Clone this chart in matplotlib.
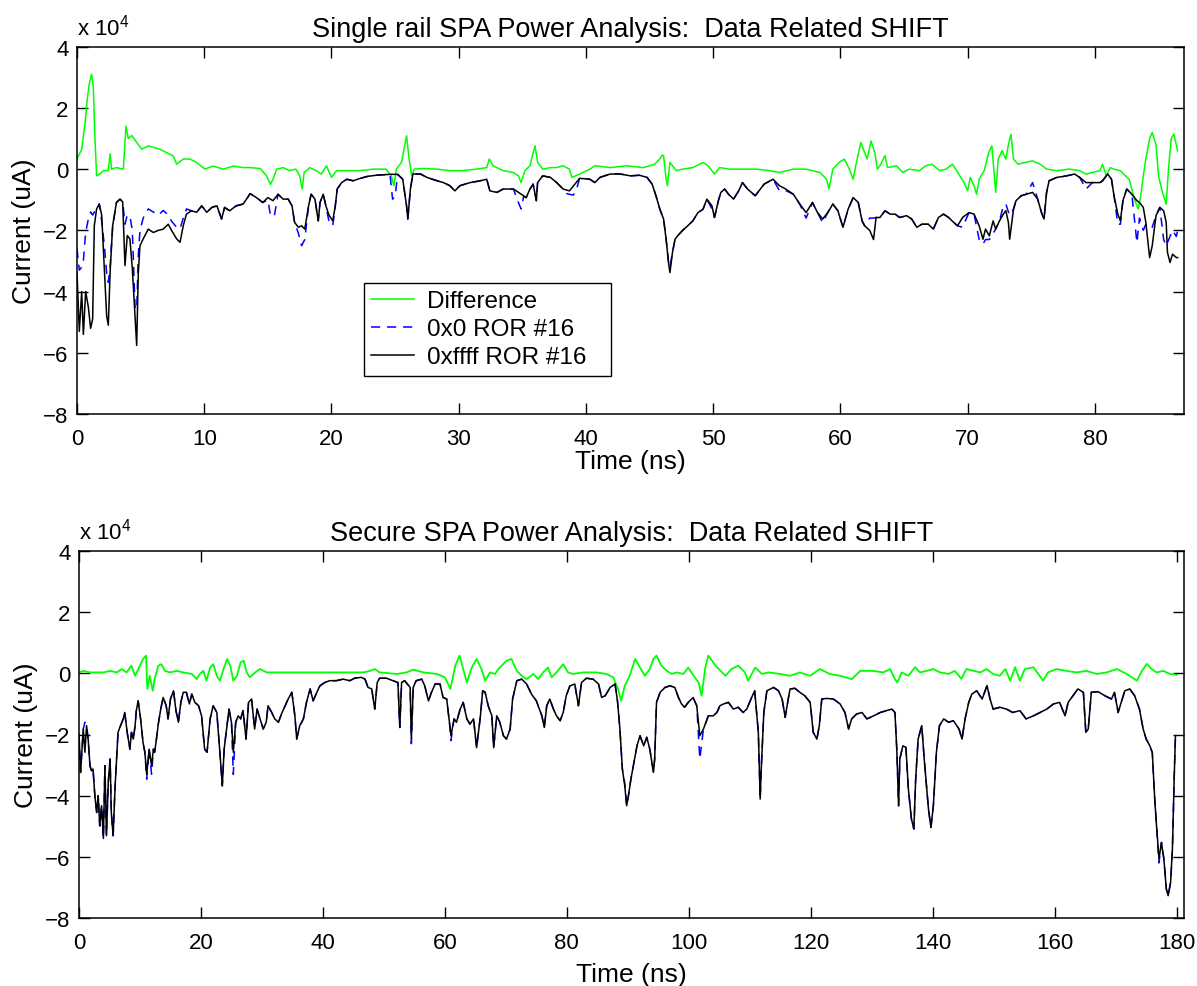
import numpy as np
import matplotlib
matplotlib.use("Agg")
import matplotlib.pyplot as plt

plt.rcParams['font.family'] = ['Liberation Sans', 'DejaVu Sans']
plt.rcParams['mathtext.fontset'] = 'custom'
plt.rcParams['mathtext.rm'] = 'Liberation Sans'
plt.rcParams['mathtext.it'] = 'Liberation Sans:italic'

# traces: (time in ns, current in units of 1e4 uA)

# single rail
top_diff = np.array([
    [0, 0.33], [0.37, 0.65], [0.63, 1.5], [0.81, 2.3], [0.97, 2.8], [1.15, 3.1], [1.28, 2.7],
    [1.41, 1.0], [1.54, -0.22], [1.8, -0.16], [2.07, -0.05], [2.46, -0.05], [2.6, 0.5], [2.72, 0.0],
    [3.1, 0.05], [3.64, 0.0], [3.85, 1.4], [4.03, 1.0], [4.3, 1.1], [4.7, 0.87], [5.08, 0.65],
    [5.6, 0.76], [6.1, 0.7], [6.5, 0.65], [7.04, 0.54], [7.57, 0.43], [7.83, 0.16], [8.35, 0.33],
    [8.87, 0.33], [9.4, 0.22], [10.05, 0.0], [10.7, 0.1], [11.5, 0.0], [12.3, 0.1], [13.06, 0.05],
    [13.6, 0.05], [14.4, 0.02], [14.9, -0.22], [15.2, -0.5], [15.4, -0.33], [15.7, 0.0], [16.2, 0.05],
    [16.7, -0.05], [17.2, 0.0], [17.5, -0.22], [17.7, -0.65], [17.85, -0.11], [18.3, 0.05],
    [18.8, -0.05], [19.2, -0.16], [19.6, 0.11], [20.0, -0.27], [20.4, -0.05], [21.2, -0.05],
    [22.2, -0.05], [23.3, 0.0], [24.3, 0.0], [24.7, -0.22], [24.9, -0.54], [25.1, 0.0], [25.5, 0.22],
    [25.7, 0.65], [25.9, 1.09], [26.1, 0.33], [26.3, -0.22], [26.5, 0.0], [27.2, 0.02], [28.3, 0.0],
    [29.3, -0.05], [30.3, -0.05], [31.4, 0.0], [32.2, 0.05], [32.4, 0.33], [32.7, 0.11], [33.5, -0.05],
    [34.3, -0.11], [34.7, -0.22], [34.9, -0.44], [35.2, -0.05], [35.6, 0.11], [35.85, 0.54],
    [36.0, 0.76], [36.2, 0.22], [36.6, 0.0], [37.2, 0.05], [37.7, 0.05], [38.2, 0.11], [38.7, 0.0],
    [38.9, -0.27], [39.5, -0.16], [40.3, 0.0], [40.7, 0.11], [41.9, 0.05], [43.2, 0.11], [44.5, 0.05],
    [45.4, 0.16], [45.8, 0.33], [46.0, 0.46], [46.1, 0.44], [46.3, -0.33], [46.4, -0.54], [46.6, 0.22],
    [46.8, 0.11], [47.1, -0.05], [47.6, 0.0], [48.4, 0.05], [49.2, 0.22], [49.6, 0.11], [50.1, -0.16],
    [50.5, 0.05], [51.3, 0.0], [52.3, 0.0], [53.4, 0.0], [54.4, -0.05], [55.2, -0.11], [56.3, 0.0],
    [57.3, 0.0], [58.4, -0.11], [58.9, -0.33], [59.1, -0.65], [59.4, 0.0], [59.9, 0.22], [60.3, 0.33],
    [60.7, 0.0], [61.0, -0.33], [61.2, 0.11], [61.6, 0.87], [61.9, 0.54], [62.1, 0.33], [62.4, 0.92],
    [62.7, 0.54], [62.9, 0.0], [63.1, 0.11], [63.5, 0.44], [63.7, 0.05], [64.4, 0.11], [64.9, -0.11],
    [65.4, 0.0], [66.2, -0.05], [66.7, 0.11], [67.2, 0.16], [67.8, -0.05], [68.3, 0.0], [68.8, 0.16],
    [69.3, -0.16], [69.7, -0.44], [70.0, -0.71], [70.2, -0.27], [70.5, -0.54], [70.7, -0.82],
    [70.9, -0.33], [71.3, -0.05], [71.65, 0.54], [71.9, 0.76], [72.2, -0.76], [72.4, 0.33], [72.7, 0.6],
    [73.0, 0.33], [73.2, 0.8], [73.4, 1.14], [73.6, 0.33], [73.95, 0.16], [74.5, 0.22], [75.1, 0.27],
    [75.7, 0.16], [76.2, 0.0], [77.0, -0.05], [78.0, 0.0], [78.8, -0.05], [79.3, -0.16], [79.8, -0.11],
    [80.4, -0.05], [80.6, 0.16], [80.9, -0.22], [81.2, 0.05], [81.5, 0.0], [82.0, -0.05], [82.4, -0.22],
    [82.7, -0.33], [83.1, -0.98], [83.4, -1.3], [83.6, -0.87], [83.8, -0.22], [84.0, 0.33], [84.3, 1.0],
    [84.5, 1.2], [84.8, 0.8], [85.0, -0.22], [85.3, -0.76], [85.6, -1.14], [85.8, 0.11], [86.0, 1.0],
    [86.2, 1.15], [86.5, 0.6],
])

top_0x0 = np.array([
    [0, -2.6], [0.18, -3.3], [0.37, -3.2], [0.5, -3.0], [0.68, -2.07], [0.89, -1.63], [1.07, -1.4],
    [1.23, -1.5], [1.36, -1.4], [1.54, -1.4], [1.75, -1.14], [1.94, -1.7], [2.15, -2.5], [2.33, -3.4],
    [2.46, -3.7], [2.6, -3.2], [2.8, -1.9], [3.1, -1.09], [3.38, -0.98], [3.59, -1.07], [3.77, -1.8],
    [3.95, -1.5], [4.16, -1.55], [4.35, -2.0], [4.56, -4.5], [4.69, -4.6], [4.82, -2.8], [4.95, -2.0],
    [5.2, -1.6], [5.6, -1.3], [6.0, -1.4], [6.39, -1.5], [6.78, -1.35], [7.17, -1.5], [7.43, -1.7],
    [7.83, -1.9], [8.1, -1.95], [8.35, -1.6], [8.6, -1.3], [9.0, -1.36], [9.4, -1.41], [9.8, -1.2],
    [10.2, -1.41], [10.6, -1.25], [11.0, -1.2], [11.36, -1.63], [11.6, -1.25], [12.0, -1.36],
    [12.5, -1.2], [13.06, -1.14], [13.45, -0.9], [13.6, -0.8], [14.1, -0.93], [14.6, -1.09],
    [15.0, -1.0], [15.2, -1.5], [15.5, -1.55], [15.8, -0.82], [16.2, -0.98], [16.6, -0.98],
    [16.9, -1.2], [17.1, -1.74], [17.4, -2.1], [17.65, -2.5], [17.9, -2.3], [18.2, -1.2], [18.4, -0.82],
    [18.7, -0.98], [18.96, -1.69], [19.1, -1.09], [19.35, -0.82], [19.56, -1.2], [19.8, -1.7],
    [20.1, -1.85], [20.3, -1.2], [20.45, -0.65], [20.8, -0.44], [21.2, -0.33], [21.7, -0.38],
    [22.2, -0.31], [22.8, -0.24], [23.5, -0.2], [24.6, -0.17], [24.8, -0.98], [25.0, -0.9],
    [25.2, -0.17], [25.6, -0.33], [25.9, -1.2], [26.0, -1.63], [26.2, -0.65], [26.4, -0.16],
    [27.0, -0.16], [27.5, -0.27], [28.3, -0.38], [28.8, -0.44], [29.3, -0.54], [29.7, -0.71],
    [30.1, -0.54], [30.9, -0.44], [31.7, -0.38], [32.2, -0.33], [32.45, -0.71], [33.0, -0.76],
    [33.5, -0.65], [34.3, -0.65], [34.7, -1.1], [34.9, -1.3], [35.1, -0.9], [35.3, -0.93],
    [35.6, -0.65], [35.85, -0.49], [36.1, -1.03], [36.2, -0.44], [36.6, -0.22], [37.2, -0.27],
    [37.7, -0.44], [38.2, -0.65], [38.5, -0.8], [39.0, -0.85], [39.3, -0.6], [39.5, -0.3],
    [40.3, -0.33], [40.7, -0.44], [41.1, -0.27], [41.9, -0.16], [42.7, -0.16], [43.5, -0.22],
    [44.2, -0.2], [44.8, -0.27], [45.2, -0.49], [45.5, -0.87], [45.8, -1.3], [46.1, -1.63],
    [46.3, -2.29], [46.5, -3.1], [46.6, -3.2], [46.8, -2.72], [47.0, -2.29], [47.2, -2.18],
    [47.6, -2.0], [48.0, -1.85], [48.4, -1.69], [48.8, -1.42], [49.2, -1.31], [49.5, -0.98],
    [49.9, -1.3], [50.1, -1.58], [50.4, -1.04], [50.6, -0.76], [50.9, -0.65], [51.2, -0.82],
    [51.6, -0.98], [52.0, -0.71], [52.3, -0.44], [52.7, -0.65], [53.3, -0.87], [53.7, -0.65],
    [54.0, -0.49], [54.7, -0.33], [55.2, -0.7], [55.7, -0.7], [56.3, -0.82], [56.8, -1.14],
    [57.3, -1.6], [57.8, -1.09], [58.2, -1.42], [58.6, -1.75], [59.0, -1.42], [59.4, -1.14],
    [59.8, -1.36], [60.2, -1.9], [60.6, -1.31], [61.0, -0.93], [61.4, -1.09], [61.7, -1.69],
    [61.9, -1.85], [62.3, -1.6], [62.6, -1.6], [62.8, -1.58], [63.1, -1.58], [63.5, -1.36],
    [63.9, -1.47], [64.3, -1.47], [64.65, -1.58], [65.2, -1.52], [65.6, -1.63], [66.0, -1.9],
    [66.4, -1.8], [66.9, -1.8], [67.3, -1.96], [67.7, -1.58], [68.1, -1.47], [68.5, -1.58],
    [68.9, -1.74], [69.2, -1.85], [69.6, -1.9], [70.1, -1.42], [70.5, -1.47], [70.9, -2.3],
    [71.2, -2.45], [71.4, -2.3], [71.7, -2.3], [72.0, -2.1], [72.2, -1.96], [72.5, -1.69],
    [72.8, -1.2], [73.0, -1.14], [73.2, -1.4], [73.3, -1.5], [73.6, -1.31], [73.8, -1.03],
    [74.2, -0.87], [74.6, -0.82], [75.1, -0.44], [75.5, -0.98], [75.8, -1.42], [76.0, -1.63],
    [76.2, -0.76], [76.4, -0.38], [77.0, -0.27], [77.5, -0.24], [78.0, -0.2], [78.4, -0.16],
    [78.8, -0.27], [79.3, -0.65], [79.8, -0.44], [80.4, -0.44], [80.6, -0.38], [81.0, -0.16],
    [81.3, -0.33], [81.5, -0.87], [81.8, -1.8], [82.0, -1.8], [82.2, -1.03], [82.5, -0.65],
    [82.9, -0.82], [83.3, -2.4], [83.5, -1.6], [83.8, -2.0], [84.0, -1.8], [84.3, -1.9], [84.5, -1.9],
    [84.8, -1.52], [85.1, -1.25], [85.4, -2.3], [85.6, -2.5], [85.7, -2.4], [85.9, -2.2],
    [86.1, -2.0], [86.4, -2.2], [86.5, -2.0],
])

top_0xffff = np.array([
    [0, -3.37], [0.18, -5.3], [0.37, -4.0], [0.5, -5.4], [0.68, -4.0], [0.89, -4.5], [1.07, -5.2],
    [1.23, -4.9], [1.36, -1.85], [1.54, -1.3], [1.75, -1.14], [1.94, -1.5], [2.15, -3.26], [2.33, -4.8],
    [2.46, -5.1], [2.6, -3.4], [2.8, -1.85], [3.1, -1.09], [3.38, -0.98], [3.59, -1.07], [3.77, -3.15],
    [3.95, -2.17], [4.16, -2.28], [4.35, -3.26], [4.56, -4.8], [4.69, -5.76], [4.82, -3.37],
    [4.95, -2.5], [5.2, -2.28], [5.6, -1.96], [6.0, -2.07], [6.39, -2.0], [6.78, -1.96], [7.17, -1.8],
    [7.43, -2.0], [7.83, -2.28], [8.1, -2.39], [8.35, -1.85], [8.6, -1.47], [9.0, -1.36], [9.4, -1.41],
    [9.8, -1.2], [10.2, -1.41], [10.6, -1.25], [11.0, -1.2], [11.36, -1.63], [11.6, -1.25],
    [12.0, -1.36], [12.5, -1.2], [13.06, -1.14], [13.45, -0.9], [13.6, -0.8], [14.1, -0.93],
    [14.6, -1.09], [15.0, -0.93], [15.4, -1.03], [15.8, -0.82], [16.2, -0.98], [16.6, -0.98],
    [16.9, -1.2], [17.1, -1.74], [17.4, -1.9], [17.65, -1.85], [17.9, -1.96], [18.2, -1.2],
    [18.4, -0.82], [18.7, -0.98], [18.96, -1.69], [19.1, -1.09], [19.35, -0.82], [19.56, -1.2],
    [19.8, -1.5], [20.1, -1.69], [20.3, -1.2], [20.45, -0.65], [20.8, -0.44], [21.2, -0.33],
    [21.7, -0.38], [22.2, -0.31], [22.8, -0.24], [23.5, -0.2], [24.6, -0.17], [25.2, -0.17],
    [25.6, -0.33], [25.9, -1.2], [26.0, -1.63], [26.2, -0.65], [26.4, -0.16], [27.0, -0.16],
    [27.5, -0.27], [28.3, -0.38], [28.8, -0.44], [29.3, -0.54], [29.7, -0.71], [30.1, -0.54],
    [30.9, -0.44], [31.7, -0.38], [32.2, -0.33], [32.45, -0.71], [33.0, -0.76], [33.5, -0.65],
    [34.3, -0.65], [34.7, -0.76], [35.1, -0.87], [35.3, -0.93], [35.6, -0.65], [35.85, -0.49],
    [36.1, -1.03], [36.2, -0.44], [36.6, -0.22], [37.2, -0.27], [37.7, -0.44], [38.2, -0.65],
    [38.7, -0.71], [39.5, -0.3], [40.3, -0.33], [40.7, -0.44], [41.1, -0.27], [41.9, -0.16],
    [42.7, -0.16], [43.5, -0.22], [44.2, -0.2], [44.8, -0.27], [45.2, -0.49], [45.5, -0.87],
    [45.8, -1.3], [46.1, -1.63], [46.3, -2.29], [46.5, -3.1], [46.6, -3.38], [46.8, -2.72],
    [47.0, -2.29], [47.2, -2.18], [47.6, -2.0], [48.0, -1.85], [48.4, -1.69], [48.8, -1.42],
    [49.2, -1.31], [49.5, -0.98], [49.9, -1.2], [50.1, -1.58], [50.4, -1.04], [50.6, -0.76],
    [50.9, -0.65], [51.2, -0.82], [51.6, -0.98], [52.0, -0.71], [52.3, -0.44], [52.7, -0.65],
    [53.3, -0.87], [53.7, -0.65], [54.0, -0.49], [54.7, -0.33], [55.2, -0.54], [55.7, -0.65],
    [56.3, -0.82], [56.8, -1.14], [57.3, -1.42], [57.8, -1.09], [58.2, -1.42], [58.6, -1.63],
    [59.0, -1.42], [59.4, -1.14], [59.8, -1.36], [60.2, -1.9], [60.6, -1.31], [61.0, -0.93],
    [61.4, -1.09], [61.7, -1.69], [61.9, -1.85], [62.3, -2.0], [62.6, -2.3], [62.8, -1.58],
    [63.1, -1.58], [63.5, -1.36], [63.9, -1.47], [64.3, -1.47], [64.65, -1.58], [65.2, -1.52],
    [65.6, -1.63], [66.0, -1.9], [66.4, -1.8], [66.9, -1.8], [67.3, -1.96], [67.7, -1.58],
    [68.1, -1.47], [68.5, -1.58], [68.9, -1.74], [69.2, -1.85], [69.6, -1.58], [70.1, -1.42],
    [70.5, -1.47], [70.9, -1.85], [71.2, -2.29], [71.4, -1.96], [71.7, -2.18], [72.0, -1.69],
    [72.2, -1.96], [72.5, -1.69], [72.8, -1.47], [73.0, -1.36], [73.2, -1.74], [73.3, -2.29],
    [73.6, -1.31], [73.8, -1.03], [74.2, -0.87], [74.6, -0.82], [75.1, -0.76], [75.5, -0.98],
    [75.8, -1.42], [76.0, -1.63], [76.2, -0.76], [76.4, -0.38], [77.0, -0.27], [77.5, -0.24],
    [78.0, -0.2], [78.4, -0.16], [78.8, -0.27], [79.3, -0.44], [79.8, -0.44], [80.4, -0.44],
    [80.6, -0.38], [81.0, -0.16], [81.3, -0.33], [81.5, -0.87], [81.8, -1.47], [82.0, -1.69],
    [82.2, -1.03], [82.5, -0.65], [82.9, -0.82], [83.3, -1.03], [83.5, -1.09], [83.8, -1.25],
    [84.0, -1.74], [84.3, -2.89], [84.5, -2.51], [84.8, -1.52], [85.1, -1.25], [85.4, -1.36],
    [85.6, -1.74], [85.7, -2.72], [85.9, -3.05], [86.1, -2.78], [86.4, -2.89], [86.5, -2.89],
])

# secure (dual rail)
bot_diff = np.array([
    [0, 0.03], [0.7, 0.08], [1.8, 0.03], [2.9, 0.03], [4.0, 0.03], [5.1, 0.08], [6.2, 0.03], [7.0, 0.14],
    [7.8, 0.03], [8.6, 0.25], [9.2, -0.08], [10.0, 0.25], [10.5, 0.47], [11.0, 0.58], [11.2, -0.51],
    [11.6, -0.08], [12.1, -0.57], [12.4, -0.19], [13.0, 0.25], [13.5, 0.3], [14.1, 0.08], [14.9, 0.03],
    [16.0, 0.08], [17.1, 0.03], [18.5, -0.02], [19.3, -0.19], [19.8, -0.02], [20.4, 0.08],
    [20.9, -0.24], [21.5, 0.19], [22.0, 0.3], [22.6, -0.08], [23.1, -0.24], [23.7, 0.14], [24.3, 0.47],
    [24.8, 0.25], [25.3, -0.24], [25.9, -0.08], [26.5, 0.36], [27.0, 0.41], [27.5, 0.03], [28.0, -0.13],
    [28.9, 0.03], [29.7, 0.14], [30.8, 0.03], [31.9, 0.03], [35.7, 0.03], [40.6, 0.03], [46.6, 0.03],
    [47.7, 0.08], [48.5, 0.14], [49.3, 0.03], [52.1, -0.02], [53.7, 0.03], [54.8, 0.12], [56.5, 0.03],
    [58.7, -0.02], [60.0, -0.13], [60.9, -0.51], [61.7, 0.25], [62.4, 0.58], [63.0, 0.14],
    [63.6, -0.3], [64.4, 0.19], [65.2, 0.47], [66.0, 0.14], [66.6, -0.24], [67.4, 0.03],
    [68.2, -0.02], [69.0, 0.19], [70.1, 0.41], [70.9, 0.47], [71.8, 0.08], [72.6, -0.08],
    [73.4, -0.19], [74.5, -0.02], [75.3, -0.19], [76.1, 0.03], [76.9, 0.19], [77.5, -0.13],
    [78.3, 0.03], [79.4, 0.3], [80.2, 0.03], [81.0, -0.02], [82.7, 0.03], [84.9, 0.03], [86.5, -0.02],
    [87.6, -0.13], [88.4, -0.51], [88.9, -0.9], [89.5, -0.41], [90.3, -0.08], [91.2, 0.47],
    [92.0, 0.19], [92.8, -0.08], [93.6, 0.14], [94.2, 0.47], [94.7, 0.58], [95.5, 0.25], [96.4, 0.08],
    [97.2, -0.02], [98.0, 0.03], [99.1, -0.02], [99.9, 0.19], [100.8, -0.08], [101.6, -0.3],
    [102.1, -0.73], [102.7, 0.19], [103.2, 0.58], [104.4, 0.25], [106.0, -0.08], [107.0, 0.14],
    [108.1, 0.25], [109.2, 0.03], [109.7, -0.24], [110.9, 0.19], [112.0, -0.02], [113.1, 0.03],
    [114.9, -0.02], [116.6, -0.08], [118.2, 0.03], [119.9, -0.08], [121.5, 0.14], [123.1, -0.02],
    [124.8, -0.08], [126.7, -0.19], [128.1, 0.08], [130.2, 0.08], [131.9, 0.03], [133.0, 0.14],
    [133.8, -0.19], [134.2, -0.3], [134.9, 0.03], [136.0, -0.08], [137.1, 0.2], [137.9, 0.03],
    [139.0, 0.08], [140.1, 0.14], [141.2, 0.03], [142.6, -0.02], [143.6, 0.08], [144.7, -0.18],
    [145.5, 0.14], [146.7, 0.08], [147.8, 0.03], [148.8, 0.14], [149.9, -0.02], [151.0, -0.08],
    [151.9, 0.14], [152.7, -0.24], [153.5, 0.2], [154.3, -0.24], [155.1, 0.14], [156.5, 0.2],
    [157.3, -0.02], [158.1, -0.24], [158.9, 0.03], [160.3, 0.14], [161.9, 0.08], [163.6, 0.03],
    [165.2, 0.08], [166.9, -0.02], [168.5, 0.03], [170.2, 0.14], [171.8, -0.02], [173.5, -0.24],
    [174.3, 0.08], [175.1, 0.31], [175.9, 0.14], [176.7, 0.03], [177.8, 0.08], [178.9, -0.02],
    [180.0, -0.05],
])

bot_0xffff = np.array([
    [0, -1.99], [0.26, -3.24], [0.7, -1.82], [0.97, -2.58], [1.24, -1.71], [1.5, -2.15], [1.8, -3.02],
    [2.05, -3.19], [2.3, -3.13], [2.6, -4.0], [2.9, -4.55], [3.15, -4.0], [3.4, -4.99], [3.7, -4.33],
    [4.0, -5.4], [4.25, -3.02], [4.5, -5.31], [4.8, -3.56], [5.1, -2.8], [5.3, -4.55], [5.6, -5.31],
    [5.9, -3.78], [6.2, -2.69], [6.4, -1.93], [6.7, -1.77], [7.25, -1.49], [7.5, -1.28], [7.9, -1.93],
    [8.35, -2.48], [8.6, -1.93], [8.9, -2.15], [9.2, -1.71], [9.4, -1.22], [9.7, -0.9], [10.1, -1.49],
    [10.5, -2.26], [10.8, -2.58], [11.1, -3.3], [11.5, -2.48], [11.9, -3.02], [12.2, -2.48],
    [12.4, -2.58], [12.7, -2.15], [13.0, -1.66], [13.4, -1.17], [13.8, -0.79], [14.3, -1.06],
    [14.6, -1.49], [15.0, -0.84], [15.5, -0.57], [15.9, -1.22], [16.3, -1.6], [16.7, -0.95],
    [17.1, -0.62], [17.6, -0.62], [18.1, -1.0], [18.5, -0.68], [19.0, -0.95], [19.6, -1.06],
    [20.1, -1.39], [20.6, -2.48], [21.0, -2.58], [21.5, -1.49], [22.0, -1.06], [22.6, -1.28],
    [23.1, -2.58], [23.5, -3.68], [23.8, -2.48], [24.2, -1.82], [24.6, -1.17], [25.0, -1.6],
    [25.3, -2.58], [25.7, -1.6], [26.1, -1.39], [26.5, -1.49], [26.9, -1.22], [27.4, -2.15],
    [27.8, -0.95], [28.3, -0.84], [28.8, -1.82], [29.2, -1.17], [29.7, -1.49], [30.2, -1.82],
    [30.7, -1.6], [31.0, -1.06], [31.6, -1.28], [32.1, -1.49], [32.7, -1.6], [33.2, -1.33],
    [33.8, -1.06], [34.3, -0.84], [34.9, -0.62], [35.4, -1.39], [35.7, -2.15], [36.2, -1.71],
    [36.8, -1.49], [37.3, -0.95], [37.9, -0.51], [38.4, -0.9], [39.0, -0.62], [39.5, -0.41],
    [40.3, -0.3], [41.1, -0.24], [42.2, -0.24], [43.3, -0.19], [44.4, -0.24], [45.2, -0.16],
    [46.3, -0.13], [46.9, -0.19], [47.4, -0.46], [48.0, -0.51], [48.5, -1.17], [48.9, -0.3],
    [49.3, -0.16], [50.4, -0.16], [51.5, -0.24], [52.3, -0.3], [52.6, -1.77], [52.9, -0.3],
    [53.4, -0.24], [54.3, -0.46], [54.5, -2.15], [54.8, -0.46], [55.3, -0.24], [56.2, -0.19],
    [56.7, -0.41], [57.3, -0.9], [57.8, -0.62], [58.4, -0.35], [59.2, -0.35], [59.7, -0.79],
    [60.3, -0.84], [60.8, -1.71], [61.0, -2.04], [61.5, -1.49], [61.9, -1.6], [62.5, -1.17],
    [63.0, -0.95], [63.6, -1.49], [64.1, -1.66], [64.7, -1.49], [65.2, -2.43], [65.8, -1.44],
    [66.2, -0.57], [66.6, -0.62], [67.1, -1.06], [67.7, -1.39], [68.0, -2.43], [68.5, -1.39],
    [69.0, -1.6], [69.6, -2.04], [70.1, -2.15], [70.7, -1.82], [71.1, -0.84], [71.8, -0.24],
    [72.6, -0.19], [73.4, -0.35], [74.2, -0.68], [75.0, -0.9], [75.9, -1.39], [76.3, -1.77],
    [76.7, -1.06], [77.2, -0.84], [77.8, -1.17], [78.3, -1.39], [78.9, -1.55], [79.4, -1.28],
    [79.9, -0.73], [80.5, -0.41], [81.3, -0.35], [81.9, -1.06], [82.4, -0.3], [83.2, -0.16],
    [84.3, -0.19], [85.2, -0.35], [85.7, -0.79], [86.3, -0.73], [87.1, -0.46], [87.9, -0.35],
    [88.3, -0.9], [88.7, -1.82], [89.1, -3.13], [89.5, -3.68], [89.8, -4.33], [90.1, -4.0],
    [90.5, -3.46], [90.9, -3.02], [91.5, -2.37], [92.0, -2.04], [92.6, -2.37], [93.1, -2.09],
    [93.6, -2.48], [94.2, -3.24], [94.4, -2.8], [94.7, -0.95], [95.3, -0.62], [96.1, -0.46],
    [96.9, -0.41], [97.7, -0.46], [98.3, -0.79], [98.8, -1.0], [99.3, -1.11], [99.9, -0.95],
    [100.7, -0.79], [101.3, -1.06], [101.8, -2.04], [102.4, -1.82], [103.2, -1.39], [104.0, -1.39],
    [104.6, -1.28], [105.1, -1.06], [105.7, -1.0], [106.5, -0.95], [107.3, -1.17], [108.1, -1.11],
    [108.9, -1.28], [109.5, -1.17], [110.3, -0.79], [110.8, -0.57], [111.4, -1.93], [111.7, -4.11],
    [111.9, -3.02], [112.3, -1.28], [112.8, -0.57], [113.9, -0.46], [114.7, -0.57], [115.3, -0.84],
    [115.8, -1.44], [116.3, -0.84], [116.6, -0.51], [117.4, -0.49], [118.2, -0.62], [119.0, -0.73],
    [119.9, -0.95], [120.4, -1.93], [121.0, -2.15], [121.4, -1.71], [121.8, -0.84], [122.6, -0.82],
    [123.7, -0.84], [124.8, -1.0], [125.6, -1.28], [126.2, -1.82], [126.7, -1.49], [127.5, -1.33],
    [128.4, -1.28], [129.2, -1.49], [130.3, -1.39], [131.4, -1.28], [132.4, -1.22], [133.3, -1.17],
    [133.8, -1.28], [134.1, -2.48], [134.4, -4.33], [134.6, -2.8], [135.1, -2.37], [135.6, -2.42],
    [136.0, -3.78], [136.5, -4.76], [136.9, -5.09], [137.2, -3.46], [137.6, -2.15], [138.2, -1.71],
    [138.6, -2.8], [139.3, -4.44], [139.7, -5.04], [140.1, -4.33], [140.6, -2.58], [141.1, -1.71],
    [141.8, -1.49], [142.6, -1.6], [143.4, -1.55], [144.3, -1.82], [144.8, -2.15], [145.3, -1.49],
    [145.9, -0.95], [146.4, -0.68], [147.2, -0.57], [148.1, -0.84], [148.9, -0.4], [149.4, -0.84],
    [149.9, -1.17], [151.0, -1.11], [152.1, -1.17], [153.1, -1.28], [154.3, -1.22], [155.3, -1.49],
    [156.5, -1.39], [157.6, -1.28], [158.7, -1.17], [159.8, -1.0], [160.8, -0.95], [161.7, -1.39],
    [162.2, -0.95], [163.0, -0.73], [163.8, -0.51], [164.7, -0.62], [165.1, -1.93], [165.5, -1.82],
    [166.0, -0.62], [167.1, -0.6], [168.2, -0.73], [169.3, -0.84], [169.8, -0.62], [170.4, -1.28],
    [170.9, -0.95], [171.5, -0.57], [172.3, -0.51], [173.1, -0.73], [173.9, -1.17], [174.5, -1.82],
    [175.0, -2.15], [175.6, -2.37], [176.0, -2.59], [176.4, -4.11], [176.7, -5.0], [177.1, -6.07],
    [177.5, -5.53], [177.9, -6.07], [178.3, -7.05], [178.6, -7.27], [179.0, -6.84], [179.3, -5.75],
    [179.6, -3.35], [179.8, -2.04],
])

# 0x0 trace of the secure run: same samples, y where it visibly departs
bot_0x0_y = bot_0xffff[:, 1].copy()
bot_0x0_dev_t = [0.97, 11.1, 11.9, 25.3, 54.5, 61.0, 89.5, 101.8, 177.1]
bot_0x0_dev_y = [-1.6, -3.46, -3.3, -3.3, -2.3, -2.2, -3.6, -2.8, -6.2]
for t, v in zip(bot_0x0_dev_t, bot_0x0_dev_y):
    bot_0x0_y[np.argmin(np.abs(bot_0xffff[:, 0] - t))] = v

fig = plt.figure(figsize=(11.97, 9.87), dpi=100)
ax1 = fig.add_axes([77 / 1197, 1 - 415 / 987, 1107 / 1197, 367.3 / 987])
ax2 = fig.add_axes([79 / 1197, 1 - 919 / 987, 1105 / 1197, 367 / 987])


def style(ax, xmax, xticks, title, xlab_y):
    ax.set_xlim(0, xmax)
    ax.set_ylim(-8, 4)
    ax.set_xticks(xticks)
    ax.set_yticks(range(-8, 5, 2))
    ax.tick_params(direction='in', top=True, right=True, length=8, width=1,
                   labelsize=16, pad=6)
    ax.tick_params(axis='x', pad=10)
    for s in ax.spines.values():
        s.set_linewidth(1.1)
    ax.set_title(title, fontsize=19.5, pad=8)
    ax.set_xlabel('Time (ns)', fontsize=19)
    ax.xaxis.set_label_coords(0.5, xlab_y)
    ax.set_ylabel('Current (uA)', fontsize=19)
    ax.yaxis.set_label_coords(-0.037, 0.5)
    ax.text(0.0, 1.034, r'x 10$^4$', transform=ax.transAxes, fontsize=16,
            ha='left', va='baseline')


ax1.plot(top_diff[:, 0], top_diff[:, 1], color='#00ff00', lw=1.1, label='Difference')
ax1.plot(top_0x0[:, 0], top_0x0[:, 1], color='#0000ff', lw=1.1, dashes=(6, 4.5), label='0x0 ROR #16')
ax1.plot(top_0xffff[:, 0], top_0xffff[:, 1], color='black', lw=1.1, label='0xffff ROR #16')
style(ax1, 87, range(0, 81, 10), 'Single rail SPA Power Analysis:  Data Related SHIFT', -0.095)
leg = ax1.legend(loc='upper left', bbox_to_anchor=(0.259, 0.357, 0.223, 0.0), mode='expand',
                 borderaxespad=0, fontsize=17.5, handlelength=1.75, handletextpad=0.55,
                 labelspacing=0.25, borderpad=0.3, fancybox=False, framealpha=1,
                 edgecolor='black')
leg.get_frame().set_linewidth(1.0)

ax2.plot(bot_diff[:, 0], bot_diff[:, 1], color='#00ff00', lw=1.3)
ax2.plot(bot_0xffff[:, 0], bot_0x0_y, color='#0000ff', lw=1.1, dashes=(6, 4.5))
ax2.plot(bot_0xffff[:, 0], bot_0xffff[:, 1], color='black', lw=1.1)
style(ax2, 181.2, range(0, 181, 20), 'Secure SPA Power Analysis:  Data Related SHIFT', -0.12)

fig.savefig('out.png', dpi=100)
